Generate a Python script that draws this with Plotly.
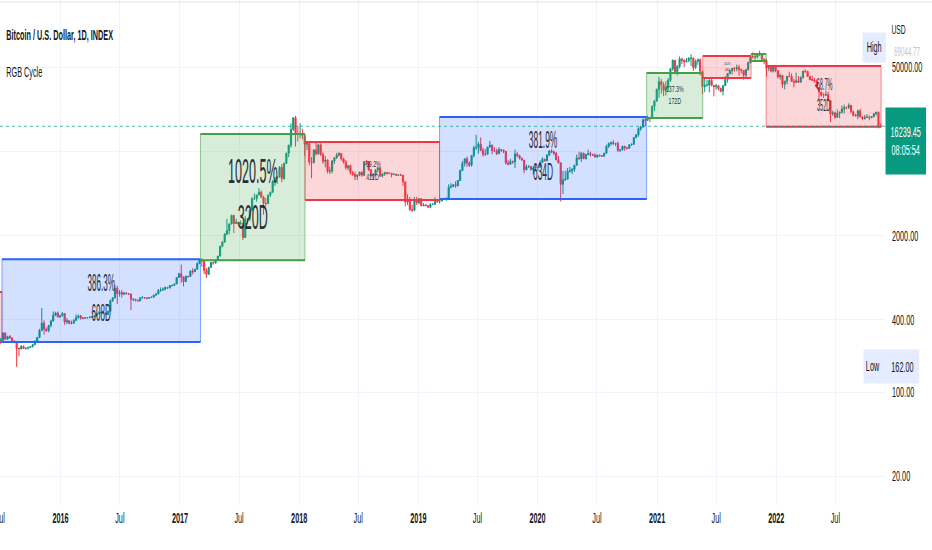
import math
import pandas as pd
import plotly.graph_objects as go

# ---------------- data (weekly candles, read/estimated from the picture) ----------------
week_mid_start = "2015-07-02"
first_open = 257

close = [
    # 2015
    270, 310, 275, 290, 281, 264, 258, 230, 229, 240, 230, 231, 234, 239, 248, 264, 284, 325,
    374, 334, 323, 358, 390, 434, 455, 422, 431,
    # 2016
    449, 382, 392, 372, 374, 393, 417, 430, 411, 411, 415, 415, 420, 421, 428, 451, 454,
    459, 455, 442, 470, 576, 608, 730, 658, 672, 650, 664, 657, 653, 590, 591, 581, 574, 606,
    610, 606, 602, 611, 616, 640, 655, 700, 705, 716, 740, 736, 768, 771, 792, 897, 963,
    # 2017
    904, 830, 918, 914, 1013, 1000, 1050, 1170, 1270, 1230, 1030, 955, 1085, 1192, 1182, 1250, 1350,
    1630, 1770, 2050, 2200, 2500, 2950, 2520, 2590, 2500, 2520, 1930, 2750, 2750, 3250,
    4050, 4050, 4350, 4600, 4200, 3700, 3700, 4350, 4600, 5650, 6000, 6150, 7400,
    5950, 8000, 9700, 11300, 15300, 19100, 13900, 13900,
    # 2018
    14200, 13600, 11500, 11700, 8200, 8100, 10300, 9600, 11400, 9500, 8300, 8500, 6850,
    6900, 8350, 8900, 9350, 9650, 8700, 8200, 7350, 7650, 6700, 6450, 6200, 6380,
    6750, 6350, 8250, 8200, 7050, 6300, 6500, 7050, 7350, 6250, 6500, 6700, 6625,
    6600, 6450, 6480, 6350, 6400, 6350, 5600, 3800, 4000, 3300, 3250, 4000, 3750, 4050,
    # 2019
    3550, 3600, 3550, 3450, 3650, 3650, 3850, 3850, 3900, 4000, 4000, 4100,
    5050, 5150, 5300, 5200, 5750, 6950, 8000, 8700, 8050, 7700, 9300, 10750, 10800,
    11500, 10200, 9500, 9500, 10900, 11300, 10200, 10150, 9600, 10400, 10300, 10050, 8050, 7850,
    8300, 8200, 9550, 9250, 8800, 8500, 7050, 7500, 7500, 7100, 7300, 7400, 7400,
    # 2020
    8100, 8650, 8400, 9350, 10150, 9900, 9700, 8550, 8050, 5350, 5800, 5900, 6850,
    6900, 7100, 7700, 8850, 8750, 9700, 8700, 9450, 9650, 9450, 9300, 9000, 9350,
    9250, 9150, 9700, 11050, 11700, 11900, 11650, 11700, 10250, 10350, 11100, 10750, 10650,
    11400, 11500, 13100, 13800, 15500, 16000, 18400, 18200, 19150, 19250, 23800, 26300, 33000,
    # 2021
    38200, 36000, 32300, 34300, 39200, 48600, 57500, 46200, 51000, 59000, 57500, 55800, 57000,
    59900, 60000, 50000, 56600, 58200, 46500, 34700, 35700, 35800, 39100, 35500, 34700, 35300,
    33500, 31800, 35400, 39900, 44600, 47100, 49300, 48900, 49900, 48300, 47300, 43200, 48200,
    55000, 61500, 61300, 61300, 64900, 65500, 58700, 57200, 49400, 50100, 46700, 50800, 47300,
    # 2022
    41800, 43100, 36300, 38500, 42400, 42200, 38400, 37700, 38800, 37800, 41300, 46800, 46400,
    42100, 39700, 39450, 38500, 34000, 31300, 29400, 29400, 29900, 26600, 20550, 21000, 19300,
    20800, 21200, 22600, 23300, 23200, 24300, 21500, 20000, 19800, 21800, 19400, 18800, 19300,
    19400, 19200, 19600, 20600, 21300, 16300, 16239.45,
]

high = [
    # 2015
    282, 315, 312, 293, 298, 286, 270, 262, 234, 245, 244, 235, 238, 241, 250, 270, 287, 335,
    500, 395, 345, 360, 399, 468, 465, 468, 438,
    # 2016
    463, 452, 412, 397, 392, 404, 442, 440, 437, 421, 420, 419, 424, 426, 430, 454, 468,
    465, 462, 456, 476, 586, 610, 780, 765, 705, 704, 680, 678, 660, 660, 600, 595, 585, 615,
    630, 612, 610, 615, 620, 645, 660, 718, 742, 740, 755, 750, 773, 775, 797, 905, 980,
    # 2017
    1150, 915, 928, 925, 1030, 1070, 1060, 1200, 1280, 1295, 1260, 1070, 1100, 1210, 1215, 1255, 1360,
    1650, 1790, 2100, 2760, 2520, 2980, 2970, 2770, 2600, 2670, 2570, 2920, 2800, 3270,
    4180, 4480, 4380, 4980, 4750, 4300, 4120, 4400, 4620, 5800, 6180, 6200, 7590,
    7880, 8080, 9780, 11400, 17200, 19200, 19783, 16500,
    # 2018
    17200, 15500, 13900, 12000, 11700, 9000, 10500, 11800, 11600, 11700, 9800, 9200, 8600,
    7500, 8500, 9000, 9750, 9900, 9700, 8900, 8500, 7700, 7780, 6900, 6800, 6450,
    6800, 6800, 8300, 8500, 8300, 7150, 6600, 7100, 7400, 7400, 6600, 6800, 6700,
    6700, 6650, 6600, 6480, 6450, 6550, 6400, 5600, 4400, 4200, 3600, 4200, 4200, 4100,
    # 2019
    4100, 3720, 3650, 3550, 3720, 3700, 4180, 3900, 3950, 4050, 4050, 4150,
    5350, 5450, 5350, 5650, 5800, 7100, 8350, 8800, 9100, 8300, 9350, 11200, 13800,
    12100, 13100, 10800, 10500, 11000, 12300, 11450, 10900, 10600, 10900, 10450, 10350, 10100, 8500,
    8700, 8400, 10400, 9900, 9400, 8900, 8500, 7800, 7700, 7600, 7550, 7700, 7500,
    # 2020
    8450, 9000, 8700, 9550, 10200, 10500, 10200, 9950, 9200, 8150, 6900, 6950, 7300,
    7450, 7300, 7750, 9450, 10000, 9900, 9800, 9600, 10400, 10000, 9600, 9700, 9450,
    9450, 9350, 9750, 11400, 11900, 12100, 12450, 11800, 12100, 10500, 11150, 11100, 10950,
    11500, 11700, 13200, 13900, 15900, 16400, 18800, 19400, 19900, 19400, 24200, 27000, 33300,
    # 2021
    41900, 40100, 37800, 38500, 40900, 49700, 58300, 57500, 52600, 61700, 60600, 58400, 60000,
    61100, 64800, 60500, 58400, 59600, 59500, 46600, 40800, 39400, 40000, 41300, 35700, 36600,
    35900, 34000, 35400, 42300, 45000, 48100, 49500, 50500, 52900, 52900, 48800, 47300, 48400,
    56100, 62900, 67000, 63700, 65500, 69044.77, 66300, 59400, 59100, 51900, 50400, 51900, 52100,
    # 2022
    47500, 44500, 43500, 38900, 42600, 45800, 44700, 40300, 45400, 42600, 42300, 46900, 48200,
    47100, 42400, 42900, 40800, 39900, 34200, 31400, 30600, 32200, 31600, 26900, 21900, 21500,
    22400, 21600, 24200, 24600, 23600, 25200, 24400, 21900, 20600, 22400, 22700, 19600, 20200,
    20500, 19900, 19700, 21000, 21400, 21500, 17100,
]

low = [
    # 2015
    253, 265, 270, 273, 278, 258, 255, 162, 198, 225, 228, 225, 226, 234, 235, 245, 262, 283,
    323, 300, 315, 313, 345, 385, 430, 415, 412,
    # 2016
    425, 360, 368, 366, 365, 370, 392, 407, 400, 402, 405, 409, 411, 415, 419, 427, 443,
    445, 449, 434, 436, 470, 560, 600, 540, 620, 610, 642, 648, 645, 480, 570, 566, 565, 565,
    600, 601, 591, 597, 607, 610, 632, 650, 680, 695, 700, 720, 726, 752, 765, 790, 890,
    # 2017
    810, 755, 820, 890, 910, 950, 995, 1045, 1170, 1100, 960, 890, 940, 1080, 1145, 1170, 1245,
    1350, 1600, 1740, 2030, 2050, 2480, 2100, 2500, 2380, 2480, 1840, 1930, 2480, 2640,
    3200, 3960, 3820, 4350, 4080, 2980, 3500, 3650, 4190, 4550, 5200, 5400, 6100,
    5550, 5850, 7900, 9000, 10800, 14900, 11000, 12100,
    # 2018
    12900, 12600, 9200, 10300, 7700, 6000, 8000, 9300, 9400, 9200, 7900, 7400, 6600,
    6500, 6600, 7900, 8700, 9100, 8400, 7950, 7100, 7000, 6450, 6300, 5780, 5800,
    6250, 6150, 6300, 7900, 6900, 6100, 5900, 6300, 6700, 6150, 6100, 6300, 6450,
    6500, 6100, 6420, 6320, 6280, 6300, 5200, 3500, 3600, 3200, 3150, 3200, 3600, 3650,
    # 2019
    3500, 3520, 3500, 3400, 3380, 3580, 3600, 3750, 3700, 3850, 3950, 3900,
    4100, 4950, 5050, 5000, 5150, 5700, 6900, 7500, 7500, 7450, 7500, 8950, 10300,
    9600, 10100, 9100, 9200, 9400, 10800, 9500, 9900, 9350, 9600, 9900, 9700, 7800, 7700,
    7850, 7900, 7300, 9000, 8600, 8400, 6600, 7000, 7300, 6950, 6450, 7150, 6900,
    # 2020
    7350, 8050, 8250, 8300, 9150, 9700, 9300, 8450, 8000, 3850, 4450, 5700, 5900,
    6700, 6500, 6800, 7650, 8550, 8200, 8700, 8650, 9300, 9100, 9250, 8950, 8950,
    9050, 9100, 9150, 9700, 10700, 11200, 11350, 11100, 9900, 9900, 10200, 10150, 10400,
    10550, 11150, 11400, 12900, 13300, 14850, 15800, 16200, 18100, 17600, 19000, 21800, 26000,
    # 2021
    28000, 30400, 28900, 29300, 32300, 37900, 47000, 44100, 43000, 49200, 53500, 50400, 55400,
    55500, 51600, 47200, 48800, 52700, 43000, 30000, 31200, 34800, 31000, 34900, 28800, 32700,
    32300, 31100, 29300, 35200, 37500, 43800, 43900, 46300, 46500, 42800, 44800, 39600, 40800,
    47100, 53900, 59600, 58000, 59500, 62300, 55600, 53300, 42000, 46700, 45500, 45600, 45700,
    # 2022
    40600, 39700, 34000, 32900, 36300, 41700, 38000, 34300, 37200, 37200, 37600, 40500, 45200,
    41900, 39200, 38700, 37600, 33700, 26700, 28700, 28000, 29300, 26500, 17600, 19800, 18700,
    19100, 18900, 20800, 20700, 22400, 22700, 20800, 19600, 19600, 18600, 19300, 18200, 18500,
    19100, 18200, 18900, 19200, 20000, 15600, 15800,
]

# RGB cycle boxes
box_start = ["2014-12-01", "2015-07-06", "2017-03-05", "2018-01-19", "2019-03-07",
             "2020-11-30", "2021-05-21", "2021-10-16", "2021-12-01"]
box_days = [217, 608, 320, 412, 634, 172, 148, 46, 352]
box_low = [261, 261, 1250, 3953, 4035, 19030, 40960, 56740, 16130]
box_high = [679, 1269, 14000, 12030, 19445, 45160, 62430, 64860, 51520]
box_kind = ["red", "blue", "green", "red", "blue", "green", "red", "green", "red"]
box_pct = ["", "386.3%", "1020.5%", "-69.2%", "381.9%", "137.3%", "-34.4%", "", "-68.7%"]

# axis ticks
x_ticks = ["2015-07-01", "2016-01-01", "2016-07-01", "2017-01-01", "2017-07-01", "2018-01-01",
           "2018-07-01", "2019-01-01", "2019-07-01", "2020-01-01", "2020-07-01", "2021-01-01",
           "2021-07-01", "2022-01-01", "2022-07-01"]
x_tick_text = ["Jul", "2016", "Jul", "2017", "Jul", "2018", "Jul", "2019", "Jul", "2020",
               "Jul", "2021", "Jul", "2022", "Jul"]
y_ticks = [20, 100, 400, 2000, 10000, 50000]
y_tick_text = ["20.00", "100.00", "400.00", "2000.00", "", "50000.00"]  # 10000 hidden by price tag
countdown = "08:05:54"

# ---------------- styles ----------------
FONT = "Liberation Sans"
TXT = "#131722"
X_RANGE = ["2015-06-30", "2022-11-30"]
Y_RANGE = [1.0599, 5.2612]
BOX_STYLE = {
    "blue": ("rgba(41,98,255,0.2)", "#2962ff", "rgba(41,98,255,0.55)"),
    "green": ("rgba(76,175,80,0.22)", "#43a047", "rgba(67,160,71,0.55)"),
    "red": ("rgba(242,54,69,0.2)", "#f23645", "rgba(242,54,69,0.55)"),
}
label_font = [1, 23, 36, 9.5, 24, 9.5, 4, 1, 16]

n = len(close)
assert len(high) == n and len(low) == n == 386, (len(close), len(high), len(low))
dates = pd.date_range(week_mid_start, periods=n, freq="7D")
opens = [first_open] + close[:-1]

fig = go.Figure()

label_x, label_y, label_t = [], [], []
for s, d, lo, hi, kind, pct in zip(box_start, box_days, box_low, box_high, box_kind, box_pct):
    x0 = pd.Timestamp(s)
    x1 = x0 + pd.Timedelta(days=d)
    fill, edge, side = BOX_STYLE[kind]
    fig.add_trace(go.Scatter(x=[x0, x1, x1, x0, x0], y=[lo, lo, hi, hi, lo], mode="lines",
                             fill="toself", fillcolor=fill, line=dict(color=side, width=1),
                             hoverinfo="skip"))
    fig.add_trace(go.Scatter(x=[x0, x1, None, x0, x1], y=[hi, hi, None, lo, lo], mode="lines",
                             line=dict(color=edge, width=2), hoverinfo="skip"))
    label_x.append(x0 + pd.Timedelta(days=d / 2))
    label_y.append(math.sqrt(lo * hi))
    label_t.append(f"{pct}<br>{d}D" if pct else "")

last = close[-1]
fig.add_trace(go.Scatter(x=X_RANGE, y=[last, last], mode="lines",
                         line=dict(color="rgba(8,153,129,0.7)", width=1, dash="dot"),
                         hoverinfo="skip"))

fig.add_trace(go.Candlestick(
    x=dates, open=opens, high=high, low=low, close=close,
    increasing=dict(line=dict(color="#089981", width=1), fillcolor="#089981"),
    decreasing=dict(line=dict(color="#f23645", width=1), fillcolor="#f23645"),
    whiskerwidth=0, hoverinfo="skip"))

fig.add_trace(go.Scatter(x=label_x, y=label_y, mode="text", text=label_t,
                         textposition="middle center",
                         textfont=dict(family=FONT, size=label_font, color="#2a2e39"),
                         hoverinfo="skip"))

hi_max = max(high)
lo_min = min(low)
PW, PH = 885.0, 505.0  # plot area in px

annotations = [
    dict(text="<b>Bitcoin / U.S. Dollar, 1D, INDEX</b>", xref="paper", yref="paper",
         x=5 / PW, y=1 - 35 / PH, xanchor="left", yanchor="middle",
         font=dict(family=FONT, size=14, color=TXT)),
    dict(text="RGB Cycle", xref="paper", yref="paper", x=5 / PW, y=1 - 72 / PH,
         xanchor="left", yanchor="middle", font=dict(family=FONT, size=14, color=TXT)),
    dict(text="USD", xref="paper", yref="paper", x=898 / PW, y=1 - 29 / PH,
         xanchor="center", yanchor="middle", font=dict(family=FONT, size=13, color=TXT)),
    dict(text="High", xref="paper", yref="y", x=862 / PW, y=math.log10(hi_max),
         xanchor="left", yanchor="middle", yshift=3, width=44, height=29, borderpad=0,
         bgcolor="rgba(41,98,255,0.12)", font=dict(family=FONT, size=14, color=TXT)),
    dict(text=f"{hi_max:.2f}", xref="paper", yref="y", x=907 / PW, y=math.log10(hi_max),
         xanchor="center", yanchor="middle", yshift=-1,
         font=dict(family=FONT, size=12, color="#c3c6ce")),
    dict(text="Low", xref="paper", yref="y", x=863 / PW, y=math.log10(lo_min),
         xanchor="left", yanchor="middle", width=98, height=25, borderpad=4, align="left",
         bgcolor="rgba(41,98,255,0.12)", font=dict(family=FONT, size=14, color=TXT)),
    dict(text=f"{lo_min:.2f}", xref="paper", yref="y", x=903 / PW, y=math.log10(lo_min),
         xanchor="center", yanchor="middle", font=dict(family=FONT, size=14, color=TXT)),
    dict(text=f"{last:.2f}<br>{countdown}", xref="paper", yref="y", x=1.0, y=math.log10(last),
         xanchor="left", yanchor="top", yshift=19, width=77, height=66, borderpad=0,
         bgcolor="#089981", font=dict(family=FONT, size=14, color="white")),
]
for a in annotations:
    a["showarrow"] = False

fig.update_layout(
    width=932, height=550,
    margin=dict(l=0, r=47, t=0, b=45, autoexpand=False),
    paper_bgcolor="white", plot_bgcolor="white",
    showlegend=False, hovermode=False,
    annotations=annotations,
    shapes=[dict(type="line", xref="paper", yref="paper", x0=0, x1=932 / PW,
                 y0=1 - 2 / PH, y1=1 - 2 / PH, line=dict(color="#e0e3eb", width=1))],
    xaxis=dict(type="date", range=X_RANGE, tickvals=x_ticks,
               ticktext=[t if t == "Jul" else f"<b>{t}</b>" for t in x_tick_text],
               showgrid=True, gridcolor="#f0f3fa", zeroline=False, showline=False,
               ticks="", ticklabelstandoff=3, automargin=False, ticklabeloverflow="allow",
               tickfont=dict(family=FONT, size=14, color=TXT),
               rangeslider=dict(visible=False), fixedrange=True),
    yaxis=dict(type="log", range=Y_RANGE, side="right", tickvals=y_ticks, ticktext=y_tick_text,
               showgrid=True, gridcolor="#f0f3fa", zeroline=False, showline=False, ticks="",
               ticklabelstandoff=6, automargin=False, ticklabeloverflow="allow",
               tickfont=dict(family=FONT, size=14, color=TXT),
               fixedrange=True),
)

post_js = """
document.documentElement.style.overflow='hidden';
document.body.style.margin='0';
document.body.style.overflow='hidden';
var gd=document.getElementById('{plot_id}');
function sq(el,s,mode){
  var tr=el.getAttribute('transform')||'';
  if(tr.indexOf('scale(')>=0) return;
  var b=el.getBBox();
  var ax=mode==='left'?b.x:(mode==='right'?b.x+b.width:b.x+b.width/2);
  el.setAttribute('transform',tr+' translate('+ax+',0) scale('+s+',1) translate('+(-ax)+',0)');
}
function squeezeAll(){
  gd.querySelectorAll('.xtick text,.ytick text').forEach(function(t){
    var a=t.getAttribute('text-anchor');
    sq(t,0.52,a==='start'?'left':(a==='end'?'right':'center'));
  });
  gd.querySelectorAll('g.annotation').forEach(function(g){
    var an=(gd.layout.annotations||[])[+g.getAttribute('data-index')]||{};
    var inner=g.querySelector('.annotation-text-g');
    if(inner) sq(inner,0.52,an.xanchor||'center');
  });
  gd.querySelectorAll('.textpoint text').forEach(function(t){
    var fs=parseFloat(t.style.fontSize||t.getAttribute('font-size'))||12;
    sq(t,fs<12?0.55:0.35,'center');
  });
}
squeezeAll();
gd.on('plotly_afterplot',squeezeAll);
"""

fig.write_html("out.html", config={"responsive": False, "displayModeBar": False},
               post_script=post_js)
